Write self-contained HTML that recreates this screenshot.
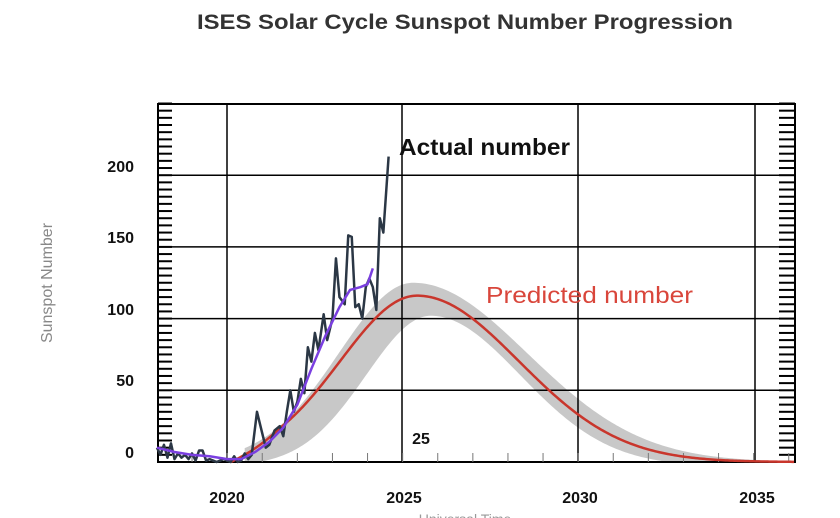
<!DOCTYPE html>
<html><head><meta charset="utf-8"><style>
body{margin:0;background:#fff;}
svg{display:block;font-family:"Liberation Sans",Arial,sans-serif;}
</style></head><body>
<svg id="s" width="840" height="518" viewBox="0 0 840 518" xmlns="http://www.w3.org/2000/svg">
<text x="197" y="29" font-size="21" font-weight="bold" fill="#333" textLength="536" lengthAdjust="spacingAndGlyphs">ISES Solar Cycle Sunspot Number Progression</text>
<text transform="translate(52,283) rotate(-90)" text-anchor="middle" font-size="16" fill="#888">Sunspot Number</text>
<g id="band"></g>
<g id="grid" stroke="#000" stroke-width="1.5"></g>
<g font-size="16" font-weight="bold" fill="#111" text-anchor="end">
<text x="134" y="172">200</text><text x="134" y="243">150</text><text x="134" y="315">100</text><text x="134" y="386">50</text><text x="134" y="458">0</text>
</g>
<g font-size="16" font-weight="bold" fill="#111" text-anchor="middle">
<text x="227" y="503">2020</text><text x="404" y="503">2025</text><text x="580" y="503">2030</text><text x="757" y="503">2035</text>
<text x="421" y="444">25</text>
</g>
<text x="465" y="524" text-anchor="middle" font-size="14" fill="#999">Universal Time</text>
<g id="series"></g>
<text x="399" y="155" font-size="23" font-weight="bold" fill="#111" textLength="171" lengthAdjust="spacingAndGlyphs">Actual number</text>
<text x="486" y="303" font-size="23" fill="#d9463b" textLength="207" lengthAdjust="spacingAndGlyphs">Predicted number</text>
</svg>
<script>
const L=158,R=795,T=104,B=462;
const X=t=>L+(t-2018.03)*35.1, Y=v=>B-v*1.434;
const sq=v=>v*v;
const f=(t,c,A,sl,sr)=>{const d=t-c;return A*Math.exp(-sq(d/(d<0?sl:sr)));};
let g='';
for(const x of [227,402,578,755]) g+=`<line x1="${x}" y1="${T}" x2="${x}" y2="${B}"/>`;
for(const v of [50,100,150,200]) g+=`<line x1="${L}" y1="${Y(v)}" x2="${R}" y2="${Y(v)}"/>`;
g+=`<rect x="${L}" y="${T}" width="${R-L}" height="${B-T}" fill="none" stroke-width="2"/>`;
for(let v=0;v<=250;v+=5){const y=Y(v);g+=`<line x1="${L}" y1="${y}" x2="172" y2="${y}" stroke-width="2"/><line x1="779" y1="${y}" x2="${R}" y2="${y}" stroke-width="2"/>`;}
for(let t=2019;t<=2036;t++){const x=X(t);g+=`<line x1="${x}" y1="${B}" x2="${x}" y2="${B-9}" stroke-width="1" stroke="#777"/>`;}
document.getElementById('grid').innerHTML=g;
const off=f(2020.1,2025.41,116,3.1,4.1);
const pred=t=>{let v=f(t,2025.41,116,3.1,4.1);if(t<2021.5)v-=off*(2021.5-t)/1.4;return Math.max(0,v);};
let up=[],lo=[];
for(let t=2020.5;t<=2036.15;t+=0.05){up.push([X(t),Y(f(t,2025.3,125,3.0,4.6))]);lo.push([X(t),Y(Math.max(0,f(t,2025.8,105,2.6,3.6)-3))]);}
let band='M'+up.map(p=>p.join(',')).join('L')+'L'+lo.reverse().map(p=>p.join(',')).join('L')+'Z';
let rp=[];for(let t=2020.1;t<=2036.15;t+=0.05)rp.push(X(t)+','+Y(pred(t)));
document.getElementById('band').innerHTML=`<path d="${band}" fill="#c8c8c8"/>`;
const act=[[2018.0,10],[2018.1,5],[2018.2,12],[2018.3,3],[2018.4,13],[2018.5,2],[2018.6,6],[2018.7,3],[2018.8,5],[2018.9,2],[2019.0,6],[2019.1,1],[2019.2,8],[2019.3,8],[2019.4,1],[2019.5,2],[2019.6,1],[2019.7,0],[2019.8,1],[2019.9,2],[2020.0,1],[2020.1,0],[2020.2,4],[2020.3,0],[2020.4,1],[2020.5,6],[2020.6,2],[2020.7,5],[2020.85,35],[2021.0,20],[2021.1,10],[2021.2,12],[2021.35,22],[2021.5,25],[2021.6,18],[2021.7,35],[2021.8,50],[2021.9,35],[2022.0,42],[2022.1,58],[2022.2,48],[2022.3,80],[2022.4,70],[2022.5,90],[2022.6,78],[2022.75,103],[2022.85,85],[2023.0,100],[2023.1,142],[2023.2,115],[2023.35,110],[2023.45,158],[2023.55,157],[2023.65,108],[2023.75,110],[2023.85,100],[2023.95,122],[2024.05,128],[2024.15,122],[2024.25,106],[2024.35,170],[2024.45,160],[2024.6,213]];
const sm=[[2018.0,10],[2018.5,7],[2019.0,5],[2019.5,4],[2020.0,2],[2020.4,2],[2020.8,7],[2021.2,14],[2021.6,24],[2022.0,40],[2022.4,65],[2022.8,88],[2023.2,108],[2023.5,120],[2023.8,122],[2024.0,124],[2024.15,135]];
const pl=a=>a.map(([t,v])=>X(t)+','+Y(v)).join(' ');
document.getElementById('series').innerHTML=`<polyline points="${rp.join(' ')}" fill="none" stroke="#c9362c" stroke-width="2.5"/><polyline points="${pl(act)}" fill="none" stroke="#2b3745" stroke-width="2.5" stroke-linejoin="round"/><polyline points="${pl(sm)}" fill="none" stroke="#7a3fe0" stroke-width="2.5"/>`;
</script>
</body></html>
